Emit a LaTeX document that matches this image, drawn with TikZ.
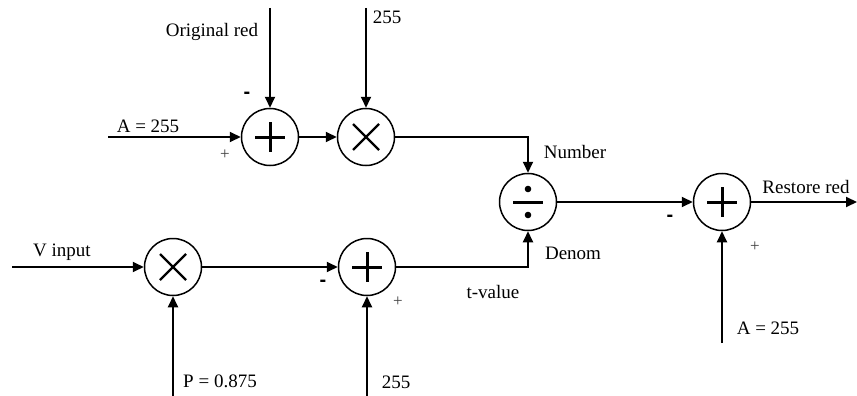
\documentclass[tikz,border=0pt]{standalone}
\usepackage{fontspec}
\setmainfont{Liberation Serif}
\newfontfamily\signfont{Liberation Sans}
\usetikzlibrary{arrows.meta}
\newcommand\plussym[1]{\draw[sym] ([shift={(-15,0)}]#1.center) -- ([shift={(15,0)}]#1.center) ([shift={(0,-15)}]#1.center) -- ([shift={(0,15)}]#1.center);}
\newcommand\timessym[1]{\draw[xsym] ([shift={(-13,-13)}]#1.center) -- ([shift={(13,13)}]#1.center) ([shift={(-13,13)}]#1.center) -- ([shift={(13,-13)}]#1.center);}
\begin{document}
\begin{tikzpicture}[x=1pt,y=-1pt,
  op/.style={circle,draw,line width=1.5pt,minimum size=57pt,inner sep=0pt},
  wire/.style={line width=2pt},
  arr/.style={wire,-{Triangle[length=11pt,width=10pt]}},
  sym/.style={line width=3pt},
  xsym/.style={line width=2.3pt},
  lab/.style={font=\fontsize{19}{21}\selectfont,inner sep=0pt},
  sgn/.style={font=\fontsize{17}{19}\selectfont,inner sep=0pt,text=black!75},
  neg/.style={font=\signfont\bfseries\fontsize{20}{22}\selectfont,inner sep=0pt}]
\useasboundingbox (0,0) rectangle (857,396);

\node[op] (s1) at (270,137) {};
\node[op] (m1) at (366,137) {};
\node[op] (dv) at (528,202) {};
\node[op] (s3) at (722,202) {};
\node[op] (m2) at (173,267) {};
\node[op] (s2) at (367,267) {};

\plussym{s1}
\plussym{s2}
\plussym{s3}
\timessym{m1}
\timessym{m2}
\draw[sym] ([shift={(-15,0)}]dv.center) -- ([shift={(15,0)}]dv.center);
\fill ([shift={(0,-13)}]dv.center) circle (3.3pt);
\fill ([shift={(0,13)}]dv.center) circle (3.3pt);

\coordinate (inA) at (108,137);
\coordinate (inOR) at (270,8);
\coordinate (inB) at (366,8);
\coordinate (inV) at (12,267);
\coordinate (inP) at (173,396);
\coordinate (inC) at (367,396);
\coordinate (inD) at (722,343);
\coordinate (out) at (857,202);

\draw[arr] (inA) -- (s1);
\draw[arr] (inOR) -- (s1);
\draw[arr] (s1) -- (m1);
\draw[arr] (inB) -- (m1);
\draw[arr] (m1) -| (dv);
\draw[arr] (inV) -- (m2);
\draw[arr] (inP) -- (m2);
\draw[arr] (m2) -- (s2);
\draw[arr] (inC) -- (s2);
\draw[arr] (s2) -| (dv);
\draw[arr] (dv) -- (s3);
\draw[arr] (inD) -- (s3);
\draw[arr] (s3) -- (out);

\node[lab] (t1) at (212,32) {Original red};
\node[lab] (t2) at (387,17) {255};
\node[lab] (t3) at (148,126) {A = 255};
\node[sgn] (t4) at (225,155) {+};
\node[neg] (t5) at (247,95) {-};
\node[lab] (t6) at (575,152) {Number};
\node[lab] (t7) at (806,187) {Restore red};
\node[neg] (t8) at (670,218) {-};
\node[sgn] (t9) at (755,247) {+};
\node[lab] (t10) at (768,328) {A = 255};
\node[lab] (t11) at (62,252) {V input};
\node[neg] (t12) at (323,283) {-};
\node[sgn] (t13) at (398,302) {+};
\node[lab] (t14) at (220,381) {P = 0.875};
\node[lab] (t15) at (396,382) {255};
\node[lab] (t16) at (573,253) {Denom};
\node[lab] (t17) at (493,292) {t-value};
\end{tikzpicture}
\end{document}
